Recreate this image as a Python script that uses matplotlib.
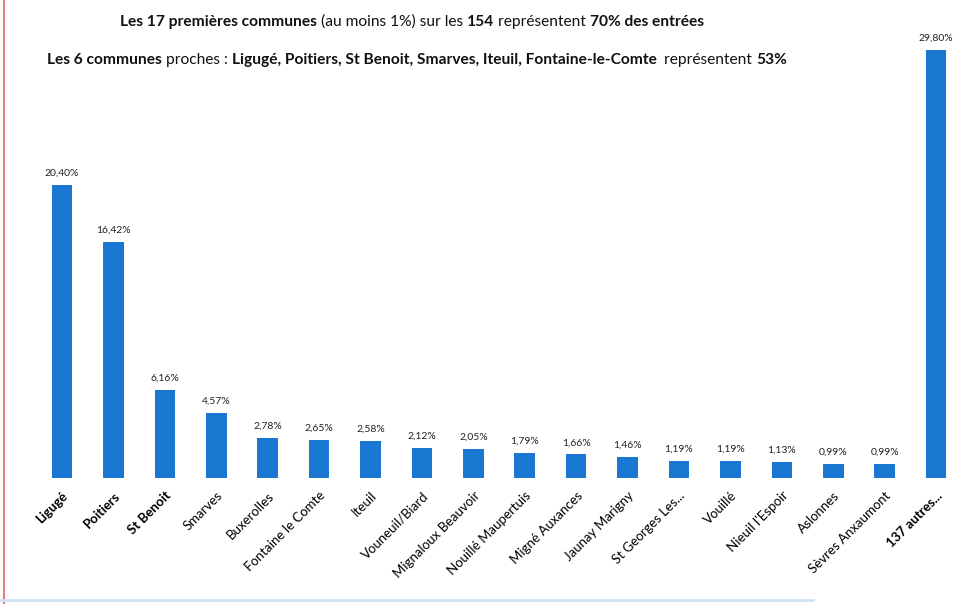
import matplotlib.pyplot as plt

communes = ["Ligugé", "Poitiers", "St Benoit", "Smarves", "Buxerolles", "Fontaine le Comte",
            "Iteuil", "Vouneuil/Biard", "Mignaloux Beauvoir", "Nouillé Maupertuis",
            "Migné Auxances", "Jaunay Marigny", "St Georges Les...", "Vouillé",
            "Nieuil l'Espoir", "Aslonnes", "Sèvres Anxaumont", "137 autres..."]
parts = [20.40, 16.42, 6.16, 4.57, 2.78, 2.65, 2.58, 2.12, 2.05, 1.79,
         1.66, 1.46, 1.19, 1.19, 1.13, 0.99, 0.99, 29.80]
bold_names = ["Ligugé", "Poitiers", "St Benoit", "137 autres..."]

line1 = [("Les 17 premières communes", "bold"), (" (au moins 1%) sur les ", "normal"),
         ("154", "bold"), (" représentent ", "normal"), ("70% des entrées", "bold")]
line2 = [("Les 6 communes", "bold"), (" proches : ", "normal"),
         ("Ligugé, Poitiers, St Benoit, Smarves, Iteuil, Fontaine-le-Comte", "bold"),
         ("  représentent ", "normal"), ("53%", "bold")]

plt.rcParams['font.family'] = ['Lato', 'DejaVu Sans']
fig = plt.figure(figsize=(9.57, 6.04), dpi=100)
ax = fig.add_axes([0.038, 0.208, 0.967, 0.717])

x = range(len(parts))
ax.bar(x, parts, width=0.4, color="#1a78d2")
for i, v in enumerate(parts):
    ax.text(i, v + 0.5, ("%.2f%%" % v).replace(".", ","), ha="center", va="bottom",
            fontsize=7.5, color="#222222")

ax.set_xlim(-0.5, len(parts) - 0.5)
ax.set_ylim(0, 30.1)
ax.set_xticks(list(x))
ax.set_xticklabels(communes, rotation=45, ha="right", rotation_mode="anchor", fontsize=9.5)
for lab in ax.get_xticklabels():
    if lab.get_text() in bold_names:
        lab.set_fontweight("bold")
ax.tick_params(axis="x", length=0, pad=8)
ax.set_yticks([])
for s in ax.spines.values():
    s.set_visible(False)

# titre en morceaux gras / normal
renderer = fig.canvas.get_renderer()
def write_line(pieces, x0, y0, size):
    xp = x0
    for txt, w in pieces:
        t = fig.text(xp, y0, txt, fontsize=size, fontweight=w, va="center", ha="left",
                     color="#111111")
        bb = t.get_window_extent(renderer)
        xp += bb.width / fig.bbox.width

write_line(line1, 120 / 957, 1 - 22 / 604, 11.2)
write_line(line2, 47 / 957, 1 - 60 / 604, 11.2)

# bords du scan
fig.add_artist(plt.Line2D([0.004, 0.004], [0, 1], color="#e08080", lw=1.5))
fig.add_artist(plt.Line2D([0, 0.85], [0.006, 0.006], color="#cfe3f5", lw=2))

fig.savefig("out.png", dpi=100)
